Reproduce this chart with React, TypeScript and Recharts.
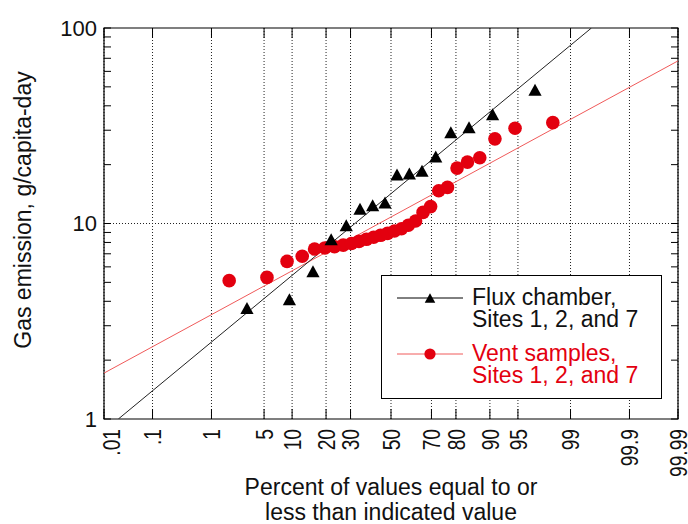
import React from "react"
import {
  ComposedChart,
  Scatter,
  XAxis,
  YAxis,
  CartesianGrid,
  ReferenceLine,
  ReferenceArea,
  Legend,
  Label,
} from "recharts"

// percent positions on the probability axis and the tick labels
const X_TICK_PCT = [0.01, 0.1, 1, 5, 10, 20, 30, 50, 70, 80, 90, 95, 99, 99.9, 99.99]
const X_TICK_LABELS = [".01", ".1", "1", "5", "10", "20", "30", "50", "70", "80", "90", "95", "99", "99.9", "99.99"]
const Y_TICKS = [1, 2, 3, 4, 5, 6, 7, 8, 9, 10, 20, 30, 40, 50, 60, 70, 80, 90, 100]
const Y_LABELED = [1, 10, 100]

// flux chamber (black triangles)
const FLUX_PCT = [3.1, 9.4, 15.6, 21.9, 28.1, 34.4, 40.6, 46.9, 53.1, 59.4, 65.6, 71.9, 78.1, 84.4, 90.6, 96.9]
const FLUX_VAL = [3.7, 4.1, 5.7, 8.3, 9.8, 11.9, 12.4, 12.8, 17.8, 18.0, 18.6, 22.0, 29.3, 31.1, 36.2, 48.3]

// vent samples (red circles)
const VENT_PCT = [
  1.8, 5.4, 8.9, 12.5, 16.1, 19.6, 23.2, 26.8, 30.4, 33.9, 37.5, 41.1, 44.6, 48.2,
  51.8, 55.4, 58.9, 62.5, 66.1, 69.6, 73.2, 76.8, 80.4, 83.9, 87.5, 91.1, 94.6, 98.2,
]
const VENT_VAL = [
  5.1, 5.3, 6.4, 6.8, 7.4, 7.5, 7.6, 7.75, 7.9, 8.1, 8.3, 8.5, 8.7, 8.9,
  9.15, 9.4, 9.8, 10.3, 11.4, 12.2, 14.7, 15.3, 19.2, 20.6, 21.7, 27.1, 30.7, 32.8,
]

const FLUX_LABEL = ["Flux chamber,", "Sites 1, 2, and 7"]
const VENT_LABEL = ["Vent samples,", "Sites 1, 2, and 7"]

const BLACK = "#000000"
const RED = "#e3000f"
const RED_LINE = "#f05a5a"
const FONT = "'Liberation Sans', Arial, Helvetica, sans-serif"

const W = 688
const H = 524
const LEFT = 104
const TOP = 28
const RIGHT = 678
const BOTTOM = 419

// inverse of the standard normal CDF (Acklam)
function probit(p: number) {
  const a = [-39.69683028665376, 220.9460984245205, -275.9285104469687, 138.357751867269, -30.66479806614716, 2.506628277459239]
  const b = [-54.47609879822406, 161.5858368580409, -155.6989798598866, 66.80131188771972, -13.28068155288572]
  const c = [-0.007784894002430293, -0.3223964580411365, -2.400758277161838, -2.549671348883914, 4.374664141464968, 2.938163982698783]
  const d = [0.007784695709041462, 0.3224671290700398, 2.445134137142996, 3.754408661907416]
  const pl = 0.02425
  if (p < pl) {
    const q = Math.sqrt(-2 * Math.log(p))
    return (((((c[0] * q + c[1]) * q + c[2]) * q + c[3]) * q + c[4]) * q + c[5]) / ((((d[0] * q + d[1]) * q + d[2]) * q + d[3]) * q + 1)
  }
  if (p <= 1 - pl) {
    const q = p - 0.5
    const r = q * q
    return ((((((a[0] * r + a[1]) * r + a[2]) * r + a[3]) * r + a[4]) * r + a[5]) * q) / (((((b[0] * r + b[1]) * r + b[2]) * r + b[3]) * r + b[4]) * r + 1)
  }
  const q = Math.sqrt(-2 * Math.log(1 - p))
  return -(((((c[0] * q + c[1]) * q + c[2]) * q + c[3]) * q + c[4]) * q + c[5]) / ((((d[0] * q + d[1]) * q + d[2]) * q + d[3]) * q + 1)
}

const Z_MIN = probit(X_TICK_PCT[0] / 100)
const Z_MAX = probit(X_TICK_PCT[X_TICK_PCT.length - 1] / 100)
const X_TICKS = X_TICK_PCT.map((p) => probit(p / 100))

const toPoints = (pcts: number[], vals: number[]) => pcts.map((p, i) => ({ z: probit(p / 100), v: vals[i] }))

// least squares of log10(value) on z, clipped to the plot box
function fitLine(pcts: number[], vals: number[]) {
  const pts = toPoints(pcts, vals)
  const n = pts.length
  const mz = pts.reduce((s, p) => s + p.z, 0) / n
  const ml = pts.reduce((s, p) => s + Math.log10(p.v), 0) / n
  let sxy = 0
  let sxx = 0
  pts.forEach((p) => {
    sxy += (p.z - mz) * (Math.log10(p.v) - ml)
    sxx += (p.z - mz) * (p.z - mz)
  })
  const slope = sxy / sxx
  const at = (z: number) => ml + slope * (z - mz)
  let z0 = Z_MIN
  let z1 = Z_MAX
  if (at(z0) < 0) z0 = mz - ml / slope
  if (at(z1) > 2) z1 = mz + (2 - ml) / slope
  return [z0, z1].map((z) => ({ z, v: Math.pow(10, at(z)) }))
}

const fluxData = toPoints(FLUX_PCT, FLUX_VAL)
const ventData = toPoints(VENT_PCT, VENT_VAL)
const fluxFit = fitLine(FLUX_PCT, FLUX_VAL)
const ventFit = fitLine(VENT_PCT, VENT_VAL)

function Triangle({ cx, cy, s = 1 }: { cx: number; cy: number; s?: number }) {
  return <polygon points={`${cx},${cy - 6 * s} ${cx + 6.6 * s},${cy + 6 * s} ${cx - 6.6 * s},${cy + 6 * s}`} fill={BLACK} />
}

const triangleShape = (props: any) => <Triangle cx={props.cx} cy={props.cy} />
const circleShape = (props: any) => <circle cx={props.cx} cy={props.cy} r={6.8} fill={RED} />
const noShape = () => <g />

function XTick(props: any) {
  const { x, index } = props
  // the first label sits a little inside the frame, as in the source figure
  const lx = index === 0 ? x + 7 : x
  return (
    <g>
      <line x1={x} x2={x} y1={BOTTOM} y2={BOTTOM - 10} stroke={BLACK} />
      <line x1={x} x2={x} y1={TOP} y2={TOP + 10} stroke={BLACK} />
      <text
        transform={`translate(${lx},${BOTTOM + 10}) rotate(-90) scale(0.8,1)`}
        textAnchor="end"
        dy="0.36em"
        fontSize={24}
        fontFamily={FONT}
        fill="#111"
      >
        {X_TICK_LABELS[index]}
      </text>
    </g>
  )
}

function YTick(props: any) {
  const { y, payload } = props
  const v = payload.value
  return (
    <g>
      <line x1={LEFT} x2={LEFT + 7} y1={y} y2={y} stroke={BLACK} />
      <line x1={RIGHT - 7} x2={RIGHT} y1={y} y2={y} stroke={BLACK} />
      {Y_LABELED.includes(v) && (
        <text x={LEFT - 7} y={y} dy="0.35em" textAnchor="end" fontSize={22} fontFamily={FONT} fill="#111">
          {v}
        </text>
      )}
    </g>
  )
}

const XTitle = () => (
  <g fontFamily={FONT} fontSize={23} fill="#111" textAnchor="middle">
    <text x={(LEFT + RIGHT) / 2} y={495}>Percent of values equal to or</text>
    <text x={(LEFT + RIGHT) / 2} y={520}>less than indicated value</text>
  </g>
)

const YTitle = () => (
  <text transform="translate(31,210) rotate(-90)" textAnchor="middle" fontFamily={FONT} fontSize={23} fill="#111">
    Gas emission, g/capita-day
  </text>
)

const LEGEND_ITEMS = [
  { label: FLUX_LABEL, line: BLACK, text: "#111", marker: "triangle" },
  { label: VENT_LABEL, line: RED_LINE, text: RED, marker: "circle" },
]

const LegendBox = () => (
  <svg width={281} height={124} style={{ display: "block" }} fontFamily={FONT}>
    <rect x={0.5} y={0.5} width={280} height={123} fill="#fff" stroke={BLACK} />
    {LEGEND_ITEMS.map((s, i) => {
      const cy = 23 + i * 56
      return (
        <g key={i}>
          <line x1={16} x2={82} y1={cy} y2={cy} stroke={s.line} />
          {s.marker === "triangle" ? <Triangle cx={49} cy={cy} s={0.8} /> : <circle cx={49} cy={cy} r={5.6} fill={RED} />}
          <text x={91} y={cy + 7} fill={s.text} fontSize={23}>
            {s.label[0]}
          </text>
          <text x={91} y={cy + 29} fill={s.text} fontSize={23}>
            {s.label[1]}
          </text>
        </g>
      )
    })}
  </svg>
)

export default function App() {
  return (
    <div style={{ position: "absolute", left: 0, top: 0, width: W, height: H, background: "#fff", fontFamily: FONT }}>
      <ComposedChart width={W} height={H} margin={{ top: TOP, right: W - RIGHT, left: 0, bottom: 0 }}>
        <CartesianGrid horizontal={false} stroke="#222" strokeDasharray="1 2" />
        <XAxis
          type="number"
          dataKey="z"
          domain={[Z_MIN, Z_MAX]}
          ticks={X_TICKS}
          interval={0}
          tick={XTick}
          tickLine={false}
          axisLine={false}
          height={H - BOTTOM}
          allowDataOverflow
        >
          <Label content={XTitle} />
        </XAxis>
        <YAxis
          type="number"
          dataKey="v"
          scale="log"
          domain={[1, 100]}
          ticks={Y_TICKS}
          interval={0}
          tick={YTick}
          tickLine={false}
          axisLine={false}
          width={LEFT}
          allowDataOverflow
        >
          <Label content={YTitle} />
        </YAxis>
        <ReferenceLine y={10} stroke="#222" strokeDasharray="1 2" />
        <Scatter name="vent fit" data={ventFit} line={{ stroke: RED_LINE, strokeWidth: 1 }} shape={noShape} legendType="none" isAnimationActive={false} />
        <Scatter name="flux fit" data={fluxFit} line={{ stroke: "#222", strokeWidth: 1 }} shape={noShape} legendType="none" isAnimationActive={false} />
        <Scatter name={VENT_LABEL.join(" ")} data={ventData} shape={circleShape} fill={RED} isAnimationActive={false} />
        <Scatter name={FLUX_LABEL.join(" ")} data={fluxData} shape={triangleShape} fill={BLACK} isAnimationActive={false} />
        <ReferenceArea x1={Z_MIN} x2={Z_MAX} y1={1} y2={100} fill="none" stroke={BLACK} strokeWidth={1.2} />
        <Legend
          layout="horizontal"
          verticalAlign="middle"
          align="center"
          wrapperStyle={{ left: 381, top: 275, width: 281, height: 124 }}
          content={LegendBox}
        />
      </ComposedChart>
    </div>
  )
}
